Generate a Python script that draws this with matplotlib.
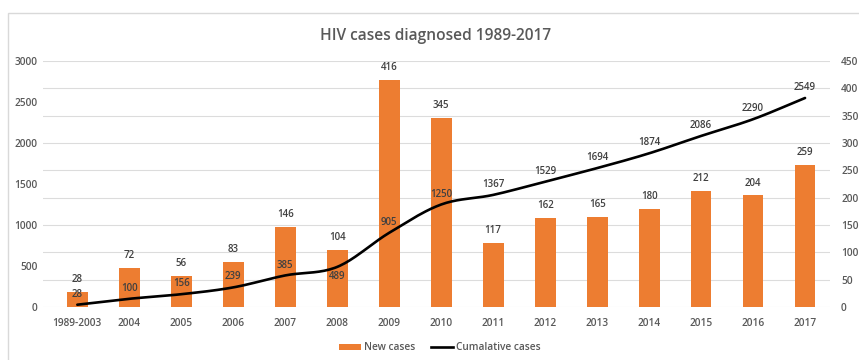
import numpy as np
import matplotlib
matplotlib.use("Agg")
import matplotlib.pyplot as plt
from matplotlib.patches import Rectangle
from matplotlib.lines import Line2D
from matplotlib.patches import Patch

categories = ["1989-2003", "2004", "2005", "2006", "2007", "2008", "2009", "2010",
              "2011", "2012", "2013", "2014", "2015", "2016", "2017"]
new_cases = [28, 72, 56, 83, 146, 104, 416, 345, 117, 162, 165, 180, 212, 204, 259]
cumulative = [28, 100, 156, 239, 385, 489, 905, 1250, 1367, 1529, 1694, 1874, 2086, 2290, 2549]
left_ticks = [0, 500, 1000, 1500, 2000, 2500, 3000]
right_ticks = [0, 50, 100, 150, 200, 250, 300, 350, 400, 450]

plt.rcParams['font.family'] = ['Open Sans', 'DejaVu Sans']
TXT = '#595959'
LBL = '#404040'
ORANGE = '#ED7D31'

W, H = 859, 360
fig = plt.figure(figsize=(W / 100, H / 100), dpi=100)
fig.patch.set_facecolor('white')

# chart border
fig.add_artist(Rectangle((8 / W, -0.05), 1.0, (H - 13) / H + 0.05, transform=fig.transFigure,
                         fill=False, edgecolor='#d9d9d9', linewidth=1.0))

ax = fig.add_axes([43 / W, (H - 307) / H, (830 - 43) / W, (307 - 61) / H])
ax2 = ax.twinx()

x = np.arange(len(categories))

# bars on secondary axis
ax2.bar(x, new_cases, width=0.4, color=ORANGE, zorder=3)
ax2.set_ylim(0, 450)
ax2.set_yticks(right_ticks)
ax2.grid(axis='y', color='#dcdcdc', linewidth=0.8, zorder=0)
ax2.set_axisbelow(True)
for xi, v in zip(x, new_cases):
    ax2.annotate(str(v), (xi, v), xytext=(0, 5), textcoords='offset points',
                 ha='center', va='bottom', fontsize=7, color=LBL, fontweight='semibold')

# smoothed line on primary axis (Catmull-Rom through data points)
def catmull_rom(xs, ys, n=20):
    xs = np.asarray(xs, float); ys = np.asarray(ys, float)
    px = np.concatenate([[2 * xs[0] - xs[1]], xs, [2 * xs[-1] - xs[-2]]])
    py = np.concatenate([[2 * ys[0] - ys[1]], ys, [2 * ys[-1] - ys[-2]]])
    ox, oy = [], []
    for i in range(1, len(px) - 2):
        t = np.linspace(0, 1, n, endpoint=False)
        t2, t3 = t * t, t * t * t
        for P, out in ((px, ox), (py, oy)):
            p0, p1, p2, p3 = P[i - 1], P[i], P[i + 1], P[i + 2]
            out.extend(0.5 * ((2 * p1) + (-p0 + p2) * t + (2 * p0 - 5 * p1 + 4 * p2 - p3) * t2
                              + (-p0 + 3 * p1 - 3 * p2 + p3) * t3))
    ox.append(xs[-1]); oy.append(ys[-1])
    return np.array(ox), np.array(oy)

sx, sy = catmull_rom(x, cumulative)
ax.plot(sx, sy, color='black', linewidth=1.9, solid_capstyle='round', zorder=4)
ax.set_ylim(0, 3000)
ax.set_yticks(left_ticks)
for i, (xi, v) in enumerate(zip(x, cumulative)):
    off = -7 if categories[i] == "2008" else 7.5
    ax.annotate(str(v), (xi, v), xytext=(0, off), textcoords='offset points',
                ha='center', va='center', fontsize=7, color=LBL, fontweight='semibold',
                zorder=5)

ax.set_zorder(ax2.get_zorder() + 1)
ax.patch.set_visible(False)

ax.set_xlim(-0.66, 14.48)
ax.set_xticks(x)
ax.set_xticklabels(categories)

for a in (ax, ax2):
    for s in a.spines.values():
        s.set_visible(False)
    a.tick_params(length=0, labelsize=7.3, labelcolor=TXT)
    for lbl in a.get_xticklabels() + a.get_yticklabels():
        lbl.set_fontweight('semibold')
ax.tick_params(axis='x', pad=8)
ax.tick_params(axis='y', pad=4)
ax2.tick_params(axis='y', pad=8)
for lbl in ax.get_yticklabels():
    lbl.set_horizontalalignment('right')

fig.text(436 / W, 1 - 36 / H, "HIV cases diagnosed 1989-2017", ha='center', va='center',
         fontsize=11.2, color=TXT, fontweight='semibold')

handles = [Patch(facecolor=ORANGE, edgecolor='none'),
           Line2D([0], [0], color='black', linewidth=1.9)]
fig.legend(handles, ["New cases", "Cumalative cases"], loc='center',
           bbox_to_anchor=(440 / W, 1 - 348 / H), ncol=2, frameon=False,
           prop={'size': 7.3, 'weight': 'semibold'}, labelcolor=TXT,
           handlelength=2.2, handleheight=0.6, columnspacing=1.5, handletextpad=0.3)

fig.savefig("out.png", dpi=100)
